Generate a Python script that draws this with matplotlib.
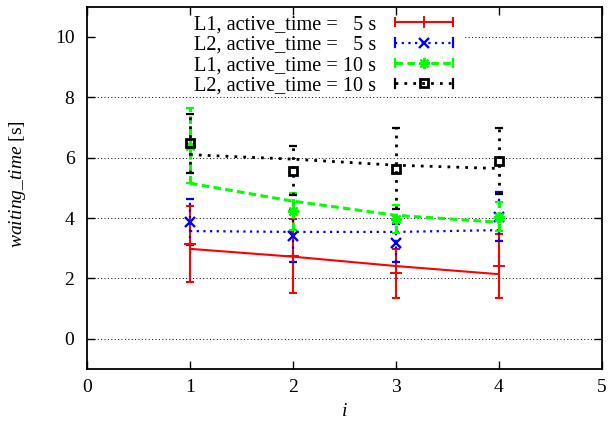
import matplotlib
matplotlib.use("Agg")
import matplotlib.pyplot as plt
from matplotlib.lines import Line2D
from matplotlib.patches import Rectangle
from matplotlib.legend_handler import HandlerBase

plt.rcParams['font.family'] = ['Liberation Serif', 'DejaVu Serif']
plt.rcParams['mathtext.fontset'] = 'custom'
plt.rcParams['mathtext.rm'] = 'Liberation Serif'
plt.rcParams['mathtext.it'] = 'Liberation Serif:italic'

# ---- data ----
x = [1, 2, 3, 4]
labels = ["L1, active_time =   5 s", "L2, active_time =   5 s",
          "L1, active_time = 10 s", "L2, active_time = 10 s"]
l1_5_mean = [3.14, 2.74, 2.17, 2.40]
l1_5_err = [1.25, 1.22, 0.81, 1.06]
l1_5_fit = [2.98, 2.72, 2.41, 2.14]
l2_5_mean = [3.87, 3.40, 3.16, 4.05]
l2_5_err = [0.77, 0.85, 0.63, 0.82]
l2_5_fit = [3.57, 3.54, 3.54, 3.60]
l1_10_mean = [6.40, 4.22, 3.96, 4.04]
l1_10_err = [1.25, 0.60, 0.47, 0.48]
l1_10_fit = [5.15, 4.56, 4.09, 3.86]
l2_10_mean = [6.48, 5.57, 5.64, 5.89]
l2_10_err = [0.98, 0.81, 1.35, 1.08]
l2_10_fit = [6.10, 5.95, 5.75, 5.64]
xticks = [0, 1, 2, 3, 4, 5]
yticks = [0, 2, 4, 6, 8, 10]

series = [
    dict(mean=l1_5_mean, err=l1_5_err, fit=l1_5_fit, color='#ff0000',
         ls='-', lw=1.5, marker='+', ms=8, mfc='#ff0000', mew=1.4),
    dict(mean=l2_5_mean, err=l2_5_err, fit=l2_5_fit, color='#0000ff',
         ls=(0, (1, 2)), lw=1.6, marker='x', ms=6.5, mfc='#0000ff', mew=1.7),
    dict(mean=l1_10_mean, err=l1_10_err, fit=l1_10_fit, color='#00ff00',
         ls=(0, (2.5, 1.4)), lw=2.2, marker=(8, 2, 0), ms=8, mfc='#00ff00', mew=1.5),
    dict(mean=l2_10_mean, err=l2_10_err, fit=l2_10_fit, color='black',
         ls=(0, (1, 2.2)), lw=2.0, marker='s', ms=5.5, mfc='none', mew=2.0),
]

fig = plt.figure(figsize=(6.08, 4.29), dpi=100)
ax = fig.add_axes([87/608, 1 - 369/429, 515/608, 362.3/429])
ax.set_xlim(0, 5)
ax.set_ylim(-1, 11)

for yv in yticks:
    ax.axhline(yv, color='black', lw=0.7, ls=(0, (1, 2.5)), zorder=0.5)

# white key area hiding part of the grid
ax.add_patch(Rectangle((0.0194, 0.765), 0.711, 0.235, transform=ax.transAxes,
                       facecolor='white', edgecolor='none', zorder=1))

handles = []
for s in series:
    ax.plot(x, s['fit'], color=s['color'], ls=s['ls'], lw=s['lw'], zorder=2)
    eb = ax.errorbar(x, s['mean'], yerr=s['err'], fmt='none', ecolor=s['color'],
                     elinewidth=s['lw'], capsize=3.0, capthick=min(s['lw'], 1.6), zorder=3)
    eb[2][0].set_linestyle(s['ls'])
    ax.plot(x, s['mean'], ls='none', marker=s['marker'], ms=s['ms'], color=s['color'],
            mfc=s['mfc'], mew=s['mew'], zorder=4)
    h = Line2D([], [], color=s['color'], ls=s['ls'], lw=s['lw'], marker=s['marker'],
               ms=s['ms'], mfc=s['mfc'], mew=s['mew'])
    h.capw = min(s['lw'], 1.6)
    h.lsspec = s['ls']
    handles.append(h)


class ErrKey(HandlerBase):
    def create_artists(self, legend, orig, xdescent, ydescent, width, height,
                       fontsize, trans):
        y = height / 2 - ydescent
        x0 = -xdescent
        x1 = -xdescent + width
        c = orig.get_color()
        line = Line2D([x0, x1], [y, y], color=c, lw=orig.get_linewidth(),
                      ls=orig.lsspec)
        cap1 = Line2D([x0, x0], [y - 3, y + 3], color=c, lw=orig.capw)
        cap2 = Line2D([x1, x1], [y - 3, y + 3], color=c, lw=orig.capw)
        mk = Line2D([(x0 + x1) / 2], [y], ls='none', marker=orig.get_marker(),
                    ms=orig.get_markersize(), color=c, mfc=orig.get_markerfacecolor(),
                    mew=orig.get_markeredgewidth())
        arts = [line, cap1, cap2, mk]
        for a in arts:
            a.set_transform(trans)
        return arts


leg = ax.legend(handles, labels, handler_map={Line2D: ErrKey()}, markerfirst=False,
                loc='upper right', bbox_to_anchor=(457/608, 1 - 11/429),
                bbox_transform=fig.transFigure, frameon=False, fontsize=14.6,
                handlelength=2.85, handletextpad=0.95, labelspacing=0.06,
                borderpad=0.2, borderaxespad=0)

ax.set_xticks(xticks)
ax.set_yticks(yticks)
ax.tick_params(direction='in', length=6, width=1.0, top=True, right=True,
               labelsize=14)
ax.tick_params(axis='y', pad=9)
ax.tick_params(axis='x', pad=7)
for sp in ax.spines.values():
    sp.set_linewidth(1.3)

ax.set_ylabel(r'$\mathit{waiting\_time}$ [s]', fontsize=14)
ax.yaxis.set_label_coords(-0.115, 0.51)
ax.set_xlabel(r'$i$', fontsize=14)
ax.xaxis.set_label_coords(0.5, -0.095)

fig.savefig('out.png', dpi=100)
